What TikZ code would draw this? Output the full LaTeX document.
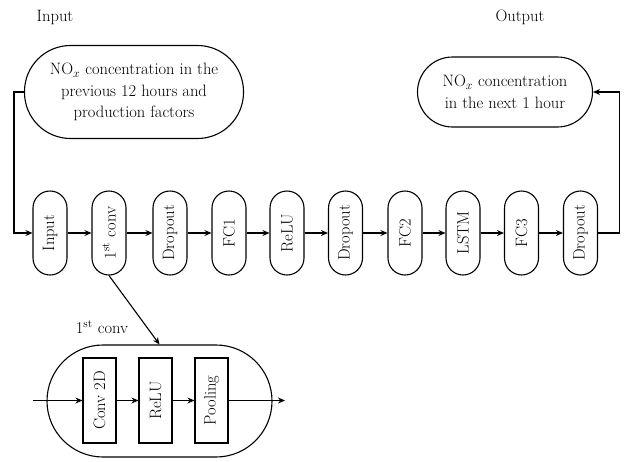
\documentclass[tikz,border=0pt]{standalone}
\usetikzlibrary{arrows.meta}
\begin{document}
\begin{tikzpicture}[x=1pt,y=-1pt,
  every node/.style={font=\fontsize{16.5}{21.5}\selectfont},
  line width=1.1pt,
  arr/.style={-{Stealth[length=7pt,width=6pt]}},
  pill/.style={draw,rounded corners=17pt,minimum width=34pt,minimum height=84pt,inner sep=0pt},
  blk/.style={draw,minimum width=33pt,minimum height=85pt,inner sep=0pt},
  lbl/.style={inner sep=0pt}]
\useasboundingbox (0,0) rectangle (632,461);
\node[lbl] (tin) at (55,17) {Input};
\node[lbl] (tout) at (520,17) {Output};
\node[draw,rounded corners=46pt,minimum width=219pt,minimum height=93pt,align=center,inner sep=0pt] (inp) at (134,92)
  {NO$_x$ concentration in the\\previous 12 hours and\\production factors};
\node[draw,rounded corners=35pt,minimum width=175pt,minimum height=70pt,align=center,inner sep=0pt] (out) at (505,92)
  {NO$_x$ concentration\\in the next 1 hour};
\node[pill] (n1) at (50,233) {\rotatebox{90}{Input}};
\node[pill] (n2) at (109,233) {\rotatebox{90}{1\textsuperscript{st} conv}};
\node[pill] (n3) at (170,233) {\rotatebox{90}{Dropout}};
\node[pill] (n4) at (229,233) {\rotatebox{90}{FC1}};
\node[pill] (n5) at (287,233) {\rotatebox{90}{ReLU}};
\node[pill] (n6) at (345.5,233) {\rotatebox{90}{Dropout}};
\node[pill] (n7) at (405,233) {\rotatebox{90}{FC2}};
\node[pill] (n8) at (463,233) {\rotatebox{90}{LSTM}};
\node[pill] (n9) at (521.5,233) {\rotatebox{90}{FC3}};
\node[pill] (n10) at (580.5,233) {\rotatebox{90}{Dropout}};
\draw[arr] (inp.west) -- ++(-10,0) |- (n1.west);
\foreach \a/\b in {n1/n2,n2/n3,n3/n4,n4/n5,n5/n6,n6/n7,n7/n8,n8/n9,n9/n10}
  \draw[arr] (\a) -- (\b);
\draw[arr] (n10.east) -- ++(21,0) |- (out.east);
\node[draw,rounded corners=56pt,minimum width=225pt,minimum height=112pt,inner sep=0pt] (big) at (159.5,401) {};
\node[lbl] (tconv) at (102,327) {1\textsuperscript{st} conv};
\draw[arr] (n2.south) -- (big.north);
\node[blk] (c1) at (99.5,400.5) {\rotatebox{90}{Conv 2D}};
\node[blk] (c2) at (155.5,400.5) {\rotatebox{90}{ReLU}};
\node[blk] (c3) at (211.5,400.5) {\rotatebox{90}{Pooling}};
\coordinate (bin) at (33,400.5);
\coordinate (bout) at (285,400.5);
\draw[arr] (bin) -- (c1);
\draw[arr] (c1) -- (c2);
\draw[arr] (c2) -- (c3);
\draw[arr] (c3) -- (bout);
\end{tikzpicture}
\end{document}
